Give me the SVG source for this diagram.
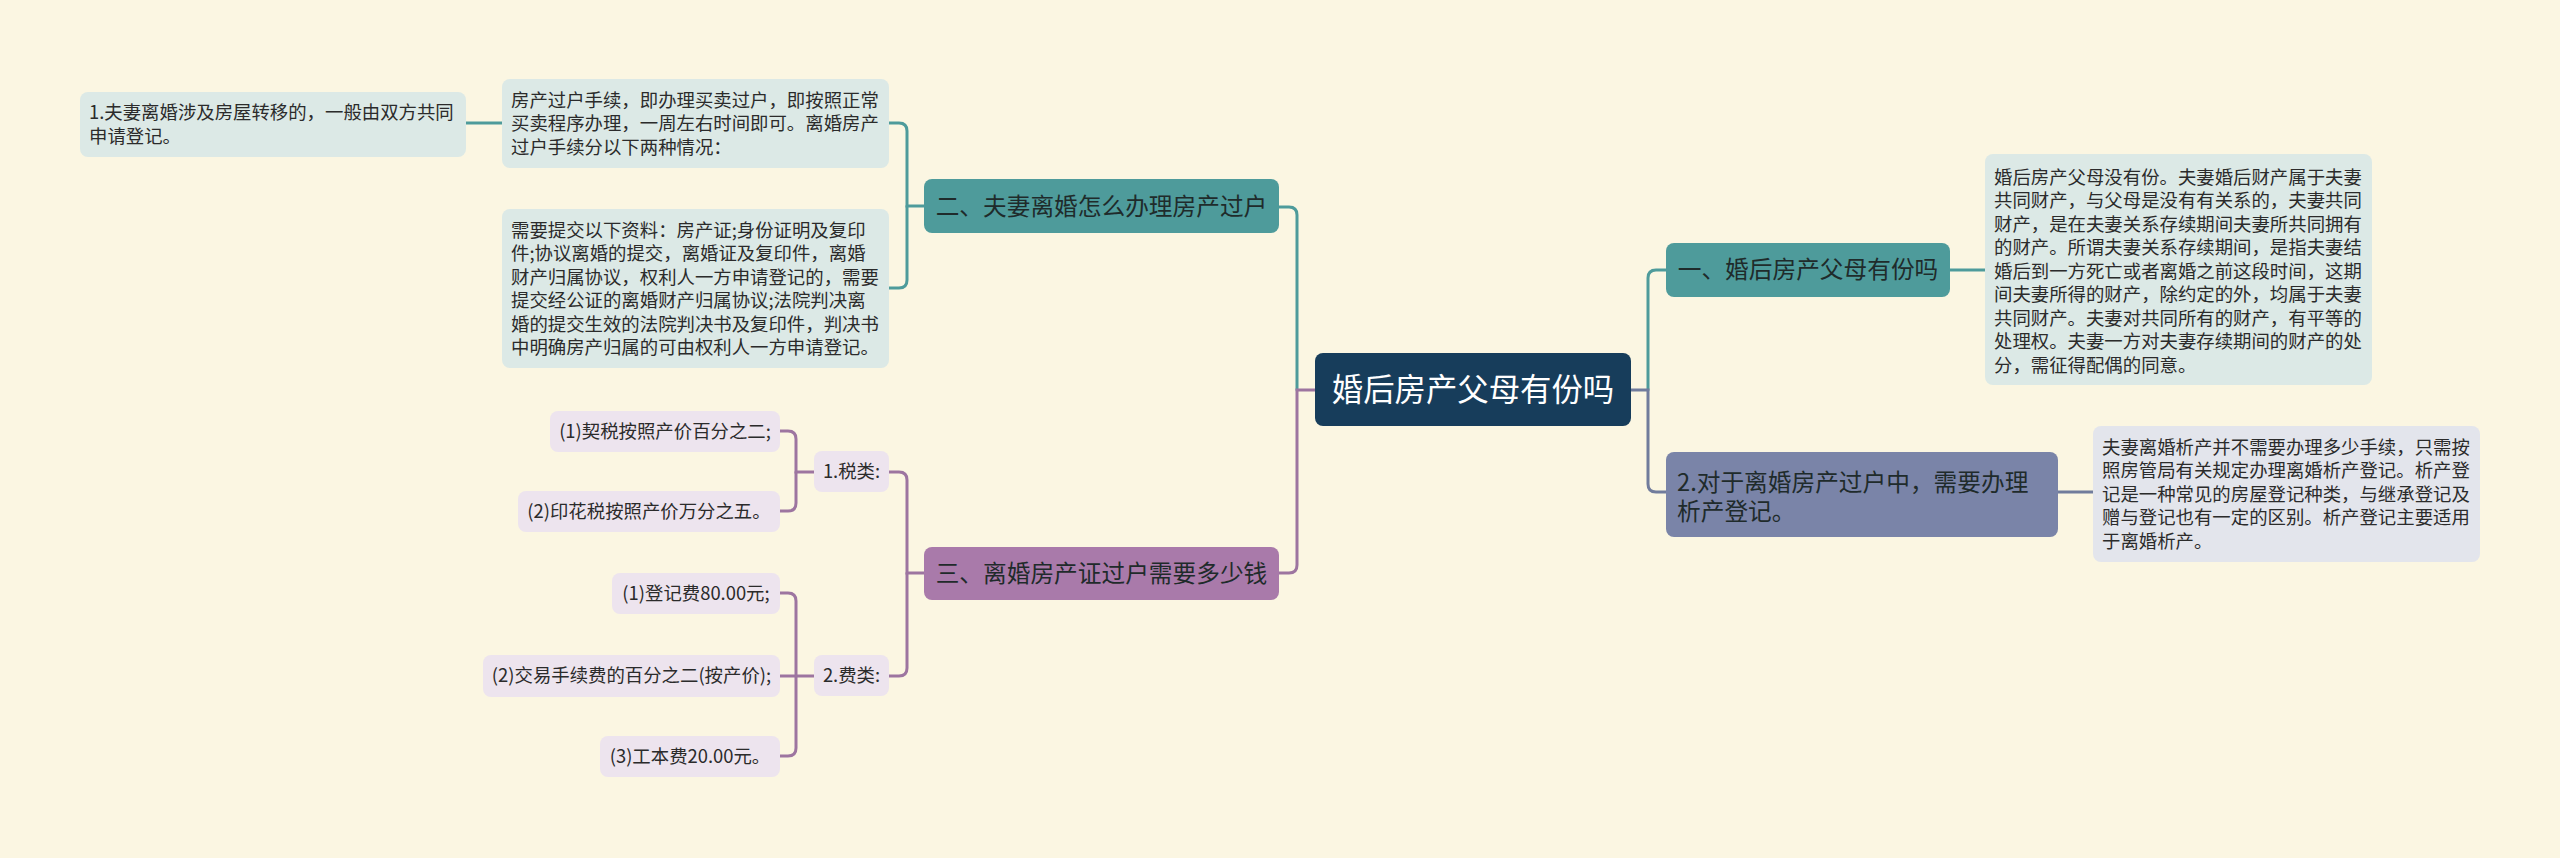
<svg xmlns="http://www.w3.org/2000/svg" width="2560" height="858" viewBox="0 0 2560 858">
<style>
text{font-family:"Noto Sans CJK SC","Noto Sans",sans-serif;}
.leaf{font-size:18.4px;fill:#2b2b2b;}
.node{font-size:23.7px;fill:#1f2b2b;}
.root{font-size:31.4px;fill:#ffffff;}
.c{fill:none;stroke-width:3;stroke-linecap:round;}
.ct{stroke:#4e9b9b;}
.cp{stroke:#9d75a0;}
.cg{stroke:#717c9c;}
</style>
<rect width="2560" height="858" fill="#fbf6e2"/>
<g id="connectors">
<path class="c ct" d="M1297,390 V215 Q1297,207 1289,207 H1279"/>
<path class="c cp" d="M1315,390 H1297 V565 Q1297,573 1289,573 H1279"/>
<path class="c ct" d="M1648,390 V278 Q1648,270 1656,270 H1666"/>
<path class="c cg" d="M1631,390 H1648 V484 Q1648,492 1656,492 H1666"/>
<path class="c ct" d="M1950,270 H1985"/>
<path class="c cg" d="M2058,492 H2093"/>
<path class="c ct" d="M924,206 H907 V131 Q907,123 899,123 H889"/>
<path class="c ct" d="M907,206 V280 Q907,288 899,288 H889"/>
<path class="c ct" d="M502,123 H466"/>
<path class="c cp" d="M924,573 H907 V480 Q907,472 899,472 H889"/>
<path class="c cp" d="M907,573 V668 Q907,676 899,676 H889"/>
<path class="c cp" d="M814,472 H796 V439 Q796,431 788,431 H779"/>
<path class="c cp" d="M796,472 V503 Q796,511 788,511 H779"/>
<path class="c cp" d="M814,676 H779"/>
<path class="c cp" d="M796,676 V601 Q796,593 788,593 H779"/>
<path class="c cp" d="M796,676 V748 Q796,756 788,756 H779"/>
</g>
<g id="root">
<rect x="1315" y="353" width="316" height="73" rx="8" fill="#173d5b"/>
<text class="root" x="1473" y="401" text-anchor="middle">婚后房产父母有份吗</text>
</g>
<g id="n1">
<rect x="1666" y="243" width="284" height="54" rx="8" fill="#4e9b9b"/>
<text class="node" x="1808" y="278" text-anchor="middle">一、婚后房产父母有份吗</text>
</g>
<g id="n1leaf">
<rect x="1985" y="154" width="387" height="231" rx="8" fill="#dce9e6"/>
<text class="leaf" x="1994" y="183.5">
<tspan x="1994">婚后房产父母没有份。夫妻婚后财产属于夫妻</tspan>
<tspan x="1994" dy="23.5">共同财产，与父母是没有有关系的，夫妻共同</tspan>
<tspan x="1994" dy="23.5">财产，是在夫妻关系存续期间夫妻所共同拥有</tspan>
<tspan x="1994" dy="23.5">的财产。所谓夫妻关系存续期间，是指夫妻结</tspan>
<tspan x="1994" dy="23.5">婚后到一方死亡或者离婚之前这段时间，这期</tspan>
<tspan x="1994" dy="23.5">间夫妻所得的财产，除约定的外，均属于夫妻</tspan>
<tspan x="1994" dy="23.5">共同财产。夫妻对共同所有的财产，有平等的</tspan>
<tspan x="1994" dy="23.5">处理权。夫妻一方对夫妻存续期间的财产的处</tspan>
<tspan x="1994" dy="23.5">分，需征得配偶的同意。</tspan>
</text>
</g>
<g id="n2">
<rect x="1666" y="452" width="392" height="85" rx="8" fill="#7a84a8"/>
<text class="node" x="1677" y="491">
<tspan x="1677">2.对于离婚房产过户中，需要办理</tspan>
<tspan x="1677" dy="29">析产登记。</tspan>
</text>
</g>
<g id="n2leaf">
<rect x="2093" y="426" width="387" height="136" rx="8" fill="#e3e5ec"/>
<text class="leaf" x="2102" y="453.5">
<tspan x="2102">夫妻离婚析产并不需要办理多少手续，只需按</tspan>
<tspan x="2102" dy="23.5">照房管局有关规定办理离婚析产登记。析产登</tspan>
<tspan x="2102" dy="23.5">记是一种常见的房屋登记种类，与继承登记及</tspan>
<tspan x="2102" dy="23.5">赠与登记也有一定的区别。析产登记主要适用</tspan>
<tspan x="2102" dy="23.5">于离婚析产。</tspan>
</text>
</g>
<g id="n3">
<rect x="924" y="179" width="355" height="54" rx="8" fill="#4e9b9b"/>
<text class="node" x="1101.5" y="214.5" text-anchor="middle">二、夫妻离婚怎么办理房产过户</text>
</g>
<g id="n3a">
<rect x="502" y="79" width="387" height="89" rx="8" fill="#dce9e6"/>
<text class="leaf" x="511" y="106.5">
<tspan x="511">房产过户手续，即办理买卖过户，即按照正常</tspan>
<tspan x="511" dy="23.5">买卖程序办理，一周左右时间即可。离婚房产</tspan>
<tspan x="511" dy="23.5">过户手续分以下两种情况：</tspan>
</text>
</g>
<g id="n3a1">
<rect x="80" y="92" width="386" height="65" rx="8" fill="#dce9e6"/>
<text class="leaf" x="89" y="119">
<tspan x="89">1.夫妻离婚涉及房屋转移的，一般由双方共同</tspan>
<tspan x="89" dy="23.5">申请登记。</tspan>
</text>
</g>
<g id="n3b">
<rect x="502" y="209" width="387" height="159" rx="8" fill="#dce9e6"/>
<text class="leaf" x="511" y="236.5">
<tspan x="511">需要提交以下资料：房产证;身份证明及复印</tspan>
<tspan x="511" dy="23.5">件;协议离婚的提交，离婚证及复印件，离婚</tspan>
<tspan x="511" dy="23.5">财产归属协议，权利人一方申请登记的，需要</tspan>
<tspan x="511" dy="23.5">提交经公证的离婚财产归属协议;法院判决离</tspan>
<tspan x="511" dy="23.5">婚的提交生效的法院判决书及复印件，判决书</tspan>
<tspan x="511" dy="23.5">中明确房产归属的可由权利人一方申请登记。</tspan>
</text>
</g>
<g id="n4">
<rect x="924" y="547" width="355" height="53" rx="8" fill="#a97aaa"/>
<text class="node" x="1101.5" y="582" text-anchor="middle">三、离婚房产证过户需要多少钱</text>
</g>
<g id="n4a">
<rect x="814" y="451" width="75" height="41" rx="8" fill="#ede4ee"/>
<text class="leaf" x="851.5" y="478" text-anchor="middle">1.税类:</text>
</g>
<g id="n4a1">
<rect x="550" y="411" width="230" height="41" rx="8" fill="#ede4ee"/>
<text class="leaf" x="665" y="438" text-anchor="middle">(1)契税按照产价百分之二;</text>
</g>
<g id="n4a2">
<rect x="518" y="491" width="262" height="41" rx="8" fill="#ede4ee"/>
<text class="leaf" x="649" y="518" text-anchor="middle">(2)印花税按照产价万分之五。</text>
</g>
<g id="n4b">
<rect x="814" y="655" width="75" height="41" rx="8" fill="#ede4ee"/>
<text class="leaf" x="851.5" y="682" text-anchor="middle">2.费类:</text>
</g>
<g id="n4b1">
<rect x="612" y="573" width="168" height="41" rx="8" fill="#ede4ee"/>
<text class="leaf" x="696" y="600" text-anchor="middle">(1)登记费80.00元;</text>
</g>
<g id="n4b2">
<rect x="483" y="655" width="297" height="42" rx="8" fill="#ede4ee"/>
<text class="leaf" x="631.5" y="682" text-anchor="middle">(2)交易手续费的百分之二(按产价);</text>
</g>
<g id="n4b3">
<rect x="600" y="736" width="180" height="41" rx="8" fill="#ede4ee"/>
<text class="leaf" x="690" y="763" text-anchor="middle">(3)工本费20.00元。</text>
</g>
</svg>
